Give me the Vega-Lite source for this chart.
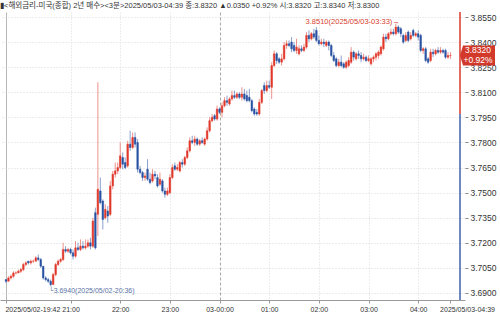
{
"$schema": "https://vega.github.io/schema/vega-lite/v6.json",
"width": 465, "height": 288,
"autosize": {"type": "none"},
"padding": {"left": 0, "top": 12, "right": 35, "bottom": 14},
"background": "white",
"config": {"view": {"stroke": null}, "font": "Liberation Sans, sans-serif"},
"title": {"text": "▮<해외금리-미국(종합) 2년 매수><3분>2025/05/03-04:39 종:3.8320 ▲0.0350 +0.92% 시:3.8320 고:3.8340 저:3.8300", "anchor": "start", "frame": "group", "offset": 1, "dy": 7, "fontSize": 7.5, "font": "Liberation Sans, Noto Sans CJK KR, sans-serif", "fontWeight": "normal", "color": "#333333", "baseline": "bottom"},
"datasets": {
"candles": [
{"t":"2025-05-02T19:42","o":3.698,"h":3.698,"l":3.696,"c":3.697},
{"t":"2025-05-02T19:45","o":3.697,"h":3.700,"l":3.697,"c":3.699},
{"t":"2025-05-02T19:48","o":3.699,"h":3.701,"l":3.698,"c":3.700},
{"t":"2025-05-02T19:51","o":3.700,"h":3.703,"l":3.699,"c":3.702},
{"t":"2025-05-02T19:54","o":3.702,"h":3.703,"l":3.701,"c":3.702},
{"t":"2025-05-02T19:57","o":3.702,"h":3.704,"l":3.702,"c":3.703},
{"t":"2025-05-02T20:00","o":3.703,"h":3.705,"l":3.702,"c":3.704},
{"t":"2025-05-02T20:03","o":3.704,"h":3.708,"l":3.703,"c":3.707},
{"t":"2025-05-02T20:06","o":3.707,"h":3.709,"l":3.706,"c":3.708},
{"t":"2025-05-02T20:09","o":3.709,"h":3.709,"l":3.707,"c":3.708},
{"t":"2025-05-02T20:12","o":3.708,"h":3.710,"l":3.707,"c":3.709},
{"t":"2025-05-02T20:15","o":3.709,"h":3.710,"l":3.708,"c":3.709},
{"t":"2025-05-02T20:18","o":3.709,"h":3.712,"l":3.709,"c":3.711},
{"t":"2025-05-02T20:21","o":3.711,"h":3.713,"l":3.709,"c":3.710},
{"t":"2025-05-02T20:24","o":3.710,"h":3.711,"l":3.705,"c":3.706},
{"t":"2025-05-02T20:27","o":3.706,"h":3.706,"l":3.698,"c":3.699},
{"t":"2025-05-02T20:30","o":3.699,"h":3.700,"l":3.697,"c":3.698},
{"t":"2025-05-02T20:33","o":3.698,"h":3.699,"l":3.696,"c":3.697},
{"t":"2025-05-02T20:36","o":3.697,"h":3.698,"l":3.694,"c":3.695},
{"t":"2025-05-02T20:39","o":3.695,"h":3.702,"l":3.695,"c":3.701},
{"t":"2025-05-02T20:42","o":3.701,"h":3.708,"l":3.700,"c":3.707},
{"t":"2025-05-02T20:45","o":3.707,"h":3.710,"l":3.706,"c":3.709},
{"t":"2025-05-02T20:48","o":3.709,"h":3.711,"l":3.708,"c":3.710},
{"t":"2025-05-02T20:51","o":3.710,"h":3.720,"l":3.709,"c":3.716},
{"t":"2025-05-02T20:54","o":3.716,"h":3.718,"l":3.714,"c":3.715},
{"t":"2025-05-02T20:57","o":3.715,"h":3.717,"l":3.714,"c":3.716},
{"t":"2025-05-02T21:00","o":3.716,"h":3.717,"l":3.713,"c":3.714},
{"t":"2025-05-02T21:03","o":3.714,"h":3.716,"l":3.710,"c":3.712},
{"t":"2025-05-02T21:06","o":3.712,"h":3.721,"l":3.711,"c":3.717},
{"t":"2025-05-02T21:09","o":3.717,"h":3.720,"l":3.715,"c":3.716},
{"t":"2025-05-02T21:12","o":3.716,"h":3.722,"l":3.715,"c":3.718},
{"t":"2025-05-02T21:15","o":3.718,"h":3.721,"l":3.716,"c":3.717},
{"t":"2025-05-02T21:18","o":3.717,"h":3.722,"l":3.716,"c":3.718},
{"t":"2025-05-02T21:21","o":3.718,"h":3.722,"l":3.717,"c":3.720},
{"t":"2025-05-02T21:24","o":3.720,"h":3.723,"l":3.716,"c":3.718},
{"t":"2025-05-02T21:27","o":3.718,"h":3.735,"l":3.717,"c":3.733},
{"t":"2025-05-02T21:30","o":3.738,"h":3.741,"l":3.716,"c":3.717},
{"t":"2025-05-02T21:33","o":3.737,"h":3.816,"l":3.724,"c":3.752},
{"t":"2025-05-02T21:36","o":3.751,"h":3.759,"l":3.743,"c":3.744},
{"t":"2025-05-02T21:39","o":3.745,"h":3.746,"l":3.728,"c":3.734},
{"t":"2025-05-02T21:42","o":3.735,"h":3.743,"l":3.734,"c":3.740},
{"t":"2025-05-02T21:45","o":3.739,"h":3.742,"l":3.732,"c":3.736},
{"t":"2025-05-02T21:48","o":3.737,"h":3.757,"l":3.736,"c":3.754},
{"t":"2025-05-02T21:51","o":3.754,"h":3.763,"l":3.752,"c":3.761},
{"t":"2025-05-02T21:54","o":3.761,"h":3.768,"l":3.759,"c":3.763},
{"t":"2025-05-02T21:57","o":3.763,"h":3.768,"l":3.761,"c":3.765},
{"t":"2025-05-02T22:00","o":3.765,"h":3.780,"l":3.764,"c":3.772},
{"t":"2025-05-02T22:03","o":3.771,"h":3.774,"l":3.764,"c":3.767},
{"t":"2025-05-02T22:06","o":3.768,"h":3.771,"l":3.764,"c":3.765},
{"t":"2025-05-02T22:09","o":3.766,"h":3.781,"l":3.765,"c":3.779},
{"t":"2025-05-02T22:12","o":3.779,"h":3.787,"l":3.775,"c":3.777},
{"t":"2025-05-02T22:15","o":3.777,"h":3.786,"l":3.776,"c":3.783},
{"t":"2025-05-02T22:18","o":3.783,"h":3.786,"l":3.777,"c":3.779},
{"t":"2025-05-02T22:21","o":3.780,"h":3.782,"l":3.762,"c":3.764},
{"t":"2025-05-02T22:24","o":3.764,"h":3.766,"l":3.761,"c":3.762},
{"t":"2025-05-02T22:27","o":3.762,"h":3.763,"l":3.757,"c":3.759},
{"t":"2025-05-02T22:30","o":3.759,"h":3.762,"l":3.757,"c":3.760},
{"t":"2025-05-02T22:33","o":3.764,"h":3.770,"l":3.757,"c":3.758},
{"t":"2025-05-02T22:36","o":3.758,"h":3.762,"l":3.755,"c":3.756},
{"t":"2025-05-02T22:39","o":3.757,"h":3.764,"l":3.756,"c":3.761},
{"t":"2025-05-02T22:42","o":3.761,"h":3.763,"l":3.758,"c":3.760},
{"t":"2025-05-02T22:45","o":3.759,"h":3.761,"l":3.753,"c":3.754},
{"t":"2025-05-02T22:48","o":3.755,"h":3.762,"l":3.754,"c":3.758},
{"t":"2025-05-02T22:51","o":3.757,"h":3.758,"l":3.750,"c":3.751},
{"t":"2025-05-02T22:54","o":3.751,"h":3.753,"l":3.747,"c":3.749},
{"t":"2025-05-02T22:57","o":3.749,"h":3.753,"l":3.748,"c":3.751},
{"t":"2025-05-02T23:00","o":3.750,"h":3.761,"l":3.749,"c":3.759},
{"t":"2025-05-02T23:03","o":3.759,"h":3.767,"l":3.758,"c":3.765},
{"t":"2025-05-02T23:06","o":3.766,"h":3.768,"l":3.763,"c":3.764},
{"t":"2025-05-02T23:09","o":3.764,"h":3.767,"l":3.763,"c":3.765},
{"t":"2025-05-02T23:12","o":3.763,"h":3.769,"l":3.762,"c":3.768},
{"t":"2025-05-02T23:15","o":3.768,"h":3.770,"l":3.765,"c":3.767},
{"t":"2025-05-02T23:18","o":3.767,"h":3.772,"l":3.766,"c":3.771},
{"t":"2025-05-02T23:21","o":3.771,"h":3.777,"l":3.770,"c":3.775},
{"t":"2025-05-02T23:24","o":3.775,"h":3.783,"l":3.774,"c":3.781},
{"t":"2025-05-02T23:27","o":3.781,"h":3.784,"l":3.779,"c":3.780},
{"t":"2025-05-02T23:30","o":3.780,"h":3.784,"l":3.778,"c":3.782},
{"t":"2025-05-02T23:33","o":3.782,"h":3.783,"l":3.778,"c":3.779},
{"t":"2025-05-02T23:36","o":3.779,"h":3.782,"l":3.778,"c":3.781},
{"t":"2025-05-02T23:39","o":3.781,"h":3.783,"l":3.779,"c":3.780},
{"t":"2025-05-02T23:42","o":3.779,"h":3.783,"l":3.778,"c":3.782},
{"t":"2025-05-02T23:45","o":3.782,"h":3.789,"l":3.781,"c":3.787},
{"t":"2025-05-02T23:48","o":3.787,"h":3.795,"l":3.786,"c":3.793},
{"t":"2025-05-02T23:51","o":3.793,"h":3.797,"l":3.792,"c":3.795},
{"t":"2025-05-02T23:54","o":3.796,"h":3.797,"l":3.793,"c":3.794},
{"t":"2025-05-02T23:57","o":3.794,"h":3.802,"l":3.793,"c":3.800},
{"t":"2025-05-03T00:00","o":3.800,"h":3.801,"l":3.797,"c":3.798},
{"t":"2025-05-03T00:03","o":3.798,"h":3.804,"l":3.795,"c":3.802},
{"t":"2025-05-03T00:06","o":3.802,"h":3.807,"l":3.801,"c":3.805},
{"t":"2025-05-03T00:09","o":3.805,"h":3.808,"l":3.802,"c":3.804},
{"t":"2025-05-03T00:12","o":3.803,"h":3.807,"l":3.802,"c":3.806},
{"t":"2025-05-03T00:15","o":3.806,"h":3.811,"l":3.805,"c":3.808},
{"t":"2025-05-03T00:18","o":3.808,"h":3.811,"l":3.806,"c":3.807},
{"t":"2025-05-03T00:21","o":3.807,"h":3.810,"l":3.806,"c":3.809},
{"t":"2025-05-03T00:24","o":3.809,"h":3.810,"l":3.806,"c":3.807},
{"t":"2025-05-03T00:27","o":3.807,"h":3.813,"l":3.805,"c":3.809},
{"t":"2025-05-03T00:30","o":3.809,"h":3.812,"l":3.805,"c":3.806},
{"t":"2025-05-03T00:33","o":3.808,"h":3.811,"l":3.804,"c":3.805},
{"t":"2025-05-03T00:36","o":3.807,"h":3.812,"l":3.804,"c":3.805},
{"t":"2025-05-03T00:39","o":3.805,"h":3.806,"l":3.798,"c":3.799},
{"t":"2025-05-03T00:42","o":3.800,"h":3.801,"l":3.796,"c":3.797},
{"t":"2025-05-03T00:45","o":3.798,"h":3.800,"l":3.796,"c":3.797},
{"t":"2025-05-03T00:48","o":3.797,"h":3.806,"l":3.796,"c":3.804},
{"t":"2025-05-03T00:51","o":3.804,"h":3.812,"l":3.803,"c":3.811},
{"t":"2025-05-03T00:54","o":3.814,"h":3.816,"l":3.809,"c":3.811},
{"t":"2025-05-03T00:57","o":3.811,"h":3.817,"l":3.810,"c":3.814},
{"t":"2025-05-03T01:00","o":3.814,"h":3.817,"l":3.812,"c":3.813},
{"t":"2025-05-03T01:03","o":3.813,"h":3.828,"l":3.806,"c":3.826},
{"t":"2025-05-03T01:06","o":3.826,"h":3.835,"l":3.825,"c":3.833},
{"t":"2025-05-03T01:09","o":3.833,"h":3.834,"l":3.827,"c":3.829},
{"t":"2025-05-03T01:12","o":3.830,"h":3.831,"l":3.827,"c":3.828},
{"t":"2025-05-03T01:15","o":3.828,"h":3.833,"l":3.826,"c":3.830},
{"t":"2025-05-03T01:18","o":3.830,"h":3.840,"l":3.829,"c":3.838},
{"t":"2025-05-03T01:21","o":3.838,"h":3.841,"l":3.836,"c":3.839},
{"t":"2025-05-03T01:24","o":3.839,"h":3.841,"l":3.837,"c":3.838},
{"t":"2025-05-03T01:27","o":3.840,"h":3.843,"l":3.834,"c":3.836},
{"t":"2025-05-03T01:30","o":3.838,"h":3.840,"l":3.834,"c":3.835},
{"t":"2025-05-03T01:33","o":3.835,"h":3.842,"l":3.833,"c":3.837},
{"t":"2025-05-03T01:36","o":3.833,"h":3.838,"l":3.832,"c":3.836},
{"t":"2025-05-03T01:39","o":3.836,"h":3.838,"l":3.834,"c":3.835},
{"t":"2025-05-03T01:42","o":3.835,"h":3.839,"l":3.834,"c":3.837},
{"t":"2025-05-03T01:45","o":3.837,"h":3.846,"l":3.836,"c":3.844},
{"t":"2025-05-03T01:48","o":3.844,"h":3.847,"l":3.840,"c":3.842},
{"t":"2025-05-03T01:51","o":3.842,"h":3.846,"l":3.841,"c":3.845},
{"t":"2025-05-03T01:54","o":3.845,"h":3.848,"l":3.842,"c":3.843},
{"t":"2025-05-03T01:57","o":3.847,"h":3.849,"l":3.840,"c":3.841},
{"t":"2025-05-03T02:00","o":3.841,"h":3.844,"l":3.838,"c":3.839},
{"t":"2025-05-03T02:03","o":3.839,"h":3.842,"l":3.838,"c":3.840},
{"t":"2025-05-03T02:06","o":3.840,"h":3.842,"l":3.837,"c":3.839},
{"t":"2025-05-03T02:09","o":3.838,"h":3.841,"l":3.837,"c":3.840},
{"t":"2025-05-03T02:12","o":3.840,"h":3.841,"l":3.835,"c":3.838},
{"t":"2025-05-03T02:15","o":3.838,"h":3.839,"l":3.831,"c":3.832},
{"t":"2025-05-03T02:18","o":3.832,"h":3.834,"l":3.828,"c":3.829},
{"t":"2025-05-03T02:21","o":3.830,"h":3.831,"l":3.825,"c":3.826},
{"t":"2025-05-03T02:24","o":3.826,"h":3.830,"l":3.825,"c":3.828},
{"t":"2025-05-03T02:27","o":3.828,"h":3.832,"l":3.825,"c":3.826},
{"t":"2025-05-03T02:30","o":3.827,"h":3.828,"l":3.824,"c":3.825},
{"t":"2025-05-03T02:33","o":3.825,"h":3.829,"l":3.824,"c":3.828},
{"t":"2025-05-03T02:36","o":3.826,"h":3.831,"l":3.825,"c":3.829},
{"t":"2025-05-03T02:39","o":3.828,"h":3.837,"l":3.827,"c":3.834},
{"t":"2025-05-03T02:42","o":3.834,"h":3.835,"l":3.829,"c":3.831},
{"t":"2025-05-03T02:45","o":3.830,"h":3.834,"l":3.829,"c":3.833},
{"t":"2025-05-03T02:48","o":3.833,"h":3.835,"l":3.830,"c":3.832},
{"t":"2025-05-03T02:51","o":3.832,"h":3.834,"l":3.828,"c":3.830},
{"t":"2025-05-03T02:54","o":3.830,"h":3.833,"l":3.829,"c":3.831},
{"t":"2025-05-03T02:57","o":3.831,"h":3.832,"l":3.828,"c":3.829},
{"t":"2025-05-03T03:00","o":3.829,"h":3.832,"l":3.828,"c":3.830},
{"t":"2025-05-03T03:03","o":3.827,"h":3.831,"l":3.826,"c":3.830},
{"t":"2025-05-03T03:06","o":3.830,"h":3.832,"l":3.828,"c":3.831},
{"t":"2025-05-03T03:09","o":3.831,"h":3.834,"l":3.829,"c":3.833},
{"t":"2025-05-03T03:12","o":3.832,"h":3.835,"l":3.830,"c":3.834},
{"t":"2025-05-03T03:15","o":3.833,"h":3.838,"l":3.832,"c":3.837},
{"t":"2025-05-03T03:18","o":3.836,"h":3.845,"l":3.835,"c":3.843},
{"t":"2025-05-03T03:21","o":3.843,"h":3.845,"l":3.840,"c":3.842},
{"t":"2025-05-03T03:24","o":3.842,"h":3.846,"l":3.841,"c":3.845},
{"t":"2025-05-03T03:27","o":3.845,"h":3.848,"l":3.844,"c":3.846},
{"t":"2025-05-03T03:30","o":3.846,"h":3.848,"l":3.844,"c":3.845},
{"t":"2025-05-03T03:33","o":3.845,"h":3.851,"l":3.844,"c":3.849},
{"t":"2025-05-03T03:36","o":3.849,"h":3.850,"l":3.845,"c":3.846},
{"t":"2025-05-03T03:39","o":3.848,"h":3.849,"l":3.843,"c":3.845},
{"t":"2025-05-03T03:42","o":3.844,"h":3.845,"l":3.839,"c":3.840},
{"t":"2025-05-03T03:45","o":3.841,"h":3.846,"l":3.840,"c":3.844},
{"t":"2025-05-03T03:48","o":3.846,"h":3.847,"l":3.840,"c":3.841},
{"t":"2025-05-03T03:51","o":3.842,"h":3.846,"l":3.841,"c":3.844},
{"t":"2025-05-03T03:54","o":3.847,"h":3.848,"l":3.843,"c":3.844},
{"t":"2025-05-03T03:57","o":3.844,"h":3.846,"l":3.843,"c":3.845},
{"t":"2025-05-03T04:00","o":3.845,"h":3.847,"l":3.841,"c":3.843},
{"t":"2025-05-03T04:03","o":3.844,"h":3.845,"l":3.834,"c":3.835},
{"t":"2025-05-03T04:06","o":3.835,"h":3.837,"l":3.833,"c":3.836},
{"t":"2025-05-03T04:09","o":3.836,"h":3.837,"l":3.828,"c":3.829},
{"t":"2025-05-03T04:12","o":3.830,"h":3.831,"l":3.827,"c":3.828},
{"t":"2025-05-03T04:15","o":3.829,"h":3.836,"l":3.828,"c":3.834},
{"t":"2025-05-03T04:18","o":3.834,"h":3.836,"l":3.831,"c":3.833},
{"t":"2025-05-03T04:21","o":3.833,"h":3.836,"l":3.832,"c":3.835},
{"t":"2025-05-03T04:24","o":3.835,"h":3.837,"l":3.833,"c":3.834},
{"t":"2025-05-03T04:27","o":3.834,"h":3.837,"l":3.833,"c":3.835},
{"t":"2025-05-03T04:30","o":3.835,"h":3.836,"l":3.833,"c":3.834},
{"t":"2025-05-03T04:33","o":3.835,"h":3.836,"l":3.830,"c":3.831},
{"t":"2025-05-03T04:36","o":3.831,"h":3.834,"l":3.830,"c":3.832},
{"t":"2025-05-03T04:39","o":3.832,"h":3.834,"l":3.830,"c":3.832}
]
},
"layer": [
{
"data": {"name": "candles"},
"mark": {"type": "rule", "strokeWidth": 1, "opacity": 0.55},
"encoding": {
"x": {"field": "t", "type": "temporal",
  "scale": {"domain": [{"year": 2025, "month": 5, "date": 2, "hours": 19, "minutes": 40, "seconds": 49}, {"year": 2025, "month": 5, "date": 3, "hours": 4, "minutes": 50, "seconds": 30}]},
  "axis": {"title": null, "tickCount": 20,
    "values": [{"year": 2025, "month": 5, "date": 2, "hours": 19, "minutes": 42}, {"year": 2025, "month": 5, "date": 2, "hours": 21}, {"year": 2025, "month": 5, "date": 2, "hours": 22}, {"year": 2025, "month": 5, "date": 2, "hours": 23}, {"year": 2025, "month": 5, "date": 3, "hours": 0}, {"year": 2025, "month": 5, "date": 3, "hours": 1}, {"year": 2025, "month": 5, "date": 3, "hours": 2}, {"year": 2025, "month": 5, "date": 3, "hours": 3}, {"year": 2025, "month": 5, "date": 3, "hours": 4}, {"year": 2025, "month": 5, "date": 3, "hours": 4, "minutes": 39}],
    "labelExpr": "hours(datum.value)==19 ? '2025/05/02-19:42' : (minutes(datum.value)==39 ? '2025/05/03-04:39' : (hours(datum.value)==0 ? '03-00:00' : timeFormat(datum.value, '%H:%M')))",
    "labelFont": "Liberation Sans, sans-serif", "labelFontSize": 7, "labelColor": "#333333", "labelPadding": 2,
    "labelAlign": {"condition": [{"test": "hours(datum.value)==19", "value": "left"}, {"test": "minutes(datum.value)==39", "value": "right"}], "value": "center"},
    "labelOffset": {"condition": [{"test": "hours(datum.value)==19", "value": -1}, {"test": "minutes(datum.value)==39", "value": 44}], "value": 0},
    "labelOverlap": false, "labelBound": false, "labelFlush": false,
    "tickSize": 3, "tickColor": "#999999", "domainColor": "#9a9a9a",
    "grid": true,
    "gridColor": {"condition": [{"test": "hours(datum.value)==19", "value": "#b8b8b8"}, {"test": "hours(datum.value)==0", "value": "#a8a8a8"}], "value": "#d9d9d9"},
    "gridDash": {"condition": [{"test": "hours(datum.value)==19", "value": []}, {"test": "hours(datum.value)==0", "value": [3, 2]}], "value": [1, 2]},
    "gridOpacity": {"condition": {"test": "minutes(datum.value)==39", "value": 0}, "value": 1}
  }},
"y": {"field": "l", "type": "quantitative",
  "scale": {"domain": [3.6858, 3.858], "nice": false, "zero": false},
  "axis": {"orient": "right", "title": null, "tickCount": 30,
    "values": [3.69, 3.705, 3.72, 3.735, 3.75, 3.765, 3.78, 3.795, 3.81, 3.825, 3.84, 3.855],
    "format": ".4f", "domain": false, "tickSize": 3, "tickColor": "#888888",
    "labelFont": "Liberation Sans, sans-serif", "labelFontSize": 8.5, "labelColor": "#333333", "labelPadding": 2, "labelBound": false, "labelOverlap": false,
    "grid": true, "gridColor": "#d9d9d9", "gridDash": [1, 2]}},
"y2": {"field": "h"},
"color": {"condition": {"test": "datum.c >= datum.o", "value": "#e0392b"}, "value": "#2a52a2"}
}
},
{
"data": {"name": "candles"},
"mark": {"type": "bar", "size": 1.6, "strokeWidth": 0.5},
"encoding": {
"x": {"field": "t", "type": "temporal"},
"y": {"field": "o", "type": "quantitative"},
"y2": {"field": "c"},
"color": {"condition": {"test": "datum.c >= datum.o", "value": "#e0392b"}, "value": "#2a52a2"},
"stroke": {"condition": {"test": "datum.c >= datum.o", "value": "#e0392b"}, "value": "#2a52a2"}
}
},
{
"data": {"values": [{"lo": 3.797, "hi": 3.858, "k": "up"}, {"lo": 3.6858, "hi": 3.797, "k": "dn"}]},
"mark": {"type": "rule", "strokeWidth": 1.5},
"encoding": {
"x": {"datum": {"year": 2025, "month": 5, "date": 3, "hours": 4, "minutes": 50, "seconds": 30}, "type": "temporal"},
"y": {"field": "lo", "type": "quantitative"},
"y2": {"field": "hi"},
"color": {"condition": {"test": "datum.k == 'up'", "value": "#d93a2c"}, "value": "#3f62a8"}
}
},
{
"data": {"values": [{"p": 3.832}]},
"mark": {"type": "point", "shape": "M0,0L0.3,-1L3.5,-1L3.5,1L0.3,1Z", "size": 400, "filled": true, "opacity": 1, "color": "#d2392b", "strokeWidth": 0},
"encoding": {
"x": {"datum": {"year": 2025, "month": 5, "date": 3, "hours": 4, "minutes": 50, "seconds": 30}, "type": "temporal"},
"y": {"field": "p", "type": "quantitative"}
}
},
{
"data": {"values": [{"p": 3.832}]},
"mark": {"type": "text", "dx": 18, "dy": -5, "align": "center", "baseline": "middle", "fontSize": 8.5, "lineHeight": 9.5, "color": "white", "font": "Liberation Sans, sans-serif"},
"encoding": {
"x": {"datum": {"year": 2025, "month": 5, "date": 3, "hours": 4, "minutes": 50, "seconds": 30}, "type": "temporal"},
"y": {"field": "p", "type": "quantitative"},
"text": {"value": ["3.8320", "+0.92%"]}
}
},
{
"data": {"values": [{"t": "2025-05-03T03:33", "v": 3.851, "label": "3.8510(2025/05/03-03:33)→"}]},
"mark": {"type": "text", "align": "right", "baseline": "middle", "dx": 4, "dy": -2, "fontSize": 7.5, "color": "#d8402f"},
"encoding": {
"x": {"field": "t", "type": "temporal"},
"y": {"field": "v", "type": "quantitative"},
"text": {"field": "label"}
}
},
{
"data": {"values": [{"t": "2025-05-02T20:36", "v": 3.694, "label": "└3.6940(2025/05/02-20:36)"}]},
"mark": {"type": "text", "align": "left", "baseline": "middle", "dx": -2, "dy": 5, "fontSize": 7, "color": "#5b74a6", "font": "Liberation Sans, DejaVu Sans, sans-serif"},
"encoding": {
"x": {"field": "t", "type": "temporal"},
"y": {"field": "v", "type": "quantitative"},
"text": {"field": "label"}
}
}
]
}
